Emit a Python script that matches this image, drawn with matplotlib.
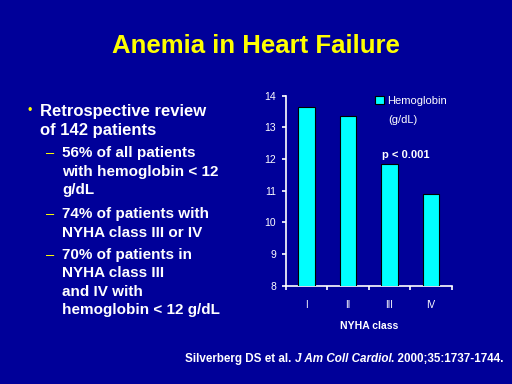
import matplotlib
matplotlib.use("Agg")
import matplotlib.pyplot as plt

plt.rcParams['font.family'] = ['Liberation Sans', 'DejaVu Sans']

# data
classes = ['I', 'II', 'III', 'IV']
hemoglobin = [13.65, 13.37, 11.85, 10.89]
y_ticks = [8, 9, 10, 11, 12, 13, 14]

bg = '#000099'
cyan = '#00ffff'
yellow = '#ffff00'

fig = plt.figure(figsize=(5.12, 3.84), dpi=100)
fig.patch.set_facecolor(bg)

# chart
ax = fig.add_axes([0.5586, 0.256, 0.3236, 0.4948])
ax.set_facecolor(bg)
x = list(range(len(classes)))
ax.bar(x, hemoglobin, width=0.4, color=cyan, edgecolor='black', linewidth=0.8,
       label='Hemoglobin', zorder=3)
ax.set_xlim(-0.5, 3.5)
ax.set_ylim(8, 14)
ax.set_yticks(y_ticks)
ax.set_xticks(x)
ax.set_xticklabels(classes)
ax.set_xticks([-0.5, 0.5, 1.5, 2.5, 3.5], minor=True)
ax.tick_params(axis='x', which='major', length=0, pad=10, colors='white', labelsize=7)
ax.tick_params(axis='x', which='minor', length=3, width=1.2, color='white', direction='out')
ax.tick_params(axis='y', length=3, width=1.2, colors='white', labelsize=7.5, pad=4)
for s in ['top', 'right']:
    ax.spines[s].set_visible(False)
for s in ['left', 'bottom']:
    ax.spines[s].set_color('white')
    ax.spines[s].set_linewidth(1.2)
ax.set_xlabel('NYHA class', color='white', fontsize=7.5, fontweight='bold', labelpad=8)

leg = ax.legend(loc='upper left', bbox_to_anchor=(0.535, 1.0), frameon=False,
                fontsize=8, labelcolor='white', handlelength=0.8, handleheight=0.8,
                handletextpad=0.35, borderaxespad=0, borderpad=0)
ax.text(0.62, 0.873, '(g/dL)', transform=ax.transAxes, color='white', fontsize=8,
        ha='left', va='center')
ax.text(1.81, 12.13, 'p < 0.001', color='white', fontsize=8, fontweight='bold',
        ha='left', va='center')

# title
fig.text(0.5, 1 - 46 / 384, 'Anemia in Heart Failure', color=yellow, fontsize=18.5,
         fontweight='bold', ha='center', va='center')

# bullets
fig.text(30 / 512, 1 - 111 / 384, '\u2022', color=yellow, fontsize=9, ha='center', va='center')
main_lines = ['Retrospective review', 'of 142 patients']
main_y = [111.7, 130.7]
for t, yy in zip(main_lines, main_y):
    fig.text(40 / 512, 1 - yy / 384, t, color='white', fontsize=12, fontweight='bold',
             ha='left', va='center')

sub_items = [
    (['56% of all patients', 'with hemoglobin < 12', 'g/dL'], [153.3, 171.7, 190]),
    (['74% of patients with', 'NYHA class III or IV'], [214, 232.7]),
    (['70% of patients in', 'NYHA class III', 'and IV with', 'hemoglobin < 12 g/dL'],
     [255, 273.3, 292.3, 310]),
]
for lines, ys in sub_items:
    fig.text(50 / 512, 1 - ys[0] / 384, '\u2013', color=yellow, fontsize=10.5,
             ha='center', va='center')
    for t, yy in zip(lines, ys):
        fig.text(62 / 512, 1 - yy / 384, t, color='white', fontsize=11, fontweight='bold',
                 ha='left', va='center')

# citation
c1 = fig.text(185 / 512, 1 - 359 / 384, 'Silverberg DS et al. ', color='white',
              fontsize=8.4, fontweight='bold', ha='left', va='center')
ann = plt.annotate('J Am Coll Cardiol', xycoords=c1, xy=(1, 0), va='bottom',
                   color='white', fontsize=8.4, fontweight='bold', style='italic',
                   annotation_clip=False)
plt.annotate('. 2000;35:1737-1744.', xycoords=ann, xy=(1, 0), va='bottom',
             color='white', fontsize=8.4, fontweight='bold', annotation_clip=False)

fig.savefig('out.png', dpi=100, facecolor=bg)
